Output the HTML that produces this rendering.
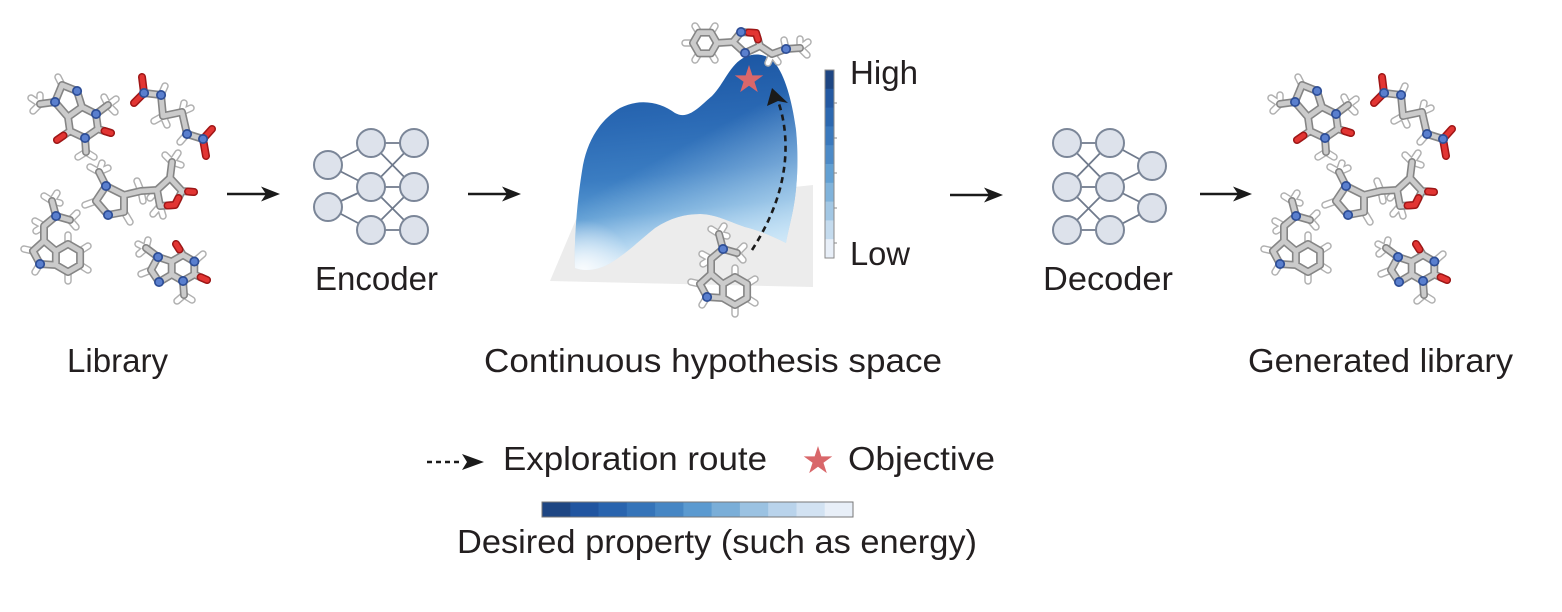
<!DOCTYPE html>
<html>
<head>
<meta charset="utf-8">
<style>
html,body{margin:0;padding:0;background:#fff;width:1562px;height:612px;overflow:hidden;}
svg{display:block;}
.t{font-family:"Liberation Sans",Arial,Helvetica,sans-serif;font-size:33px;fill:#231f20;}
.go,.gi,.ho,.hi,.oo,.oi,.no,.ni{fill:none;stroke-linecap:round;stroke-linejoin:round;}
.go{stroke:#858585;stroke-width:8;}
.gi{stroke:#cbcbcb;stroke-width:4.8;}
.ho{stroke:#b0b0b0;stroke-width:7.5;}
.hi{stroke:#ffffff;stroke-width:4.6;}
.oo{stroke:#a01616;stroke-width:8;}
.oi{stroke:#e23533;stroke-width:5;}
.no{stroke:#2e4e96;stroke-width:10;}
.ni{stroke:#5a7fce;stroke-width:6.6;}
.nn{fill:#dde2eb;stroke:#7b8698;stroke-width:2;}
.ne{stroke:#6f7a8c;stroke-width:1.8;fill:none;}
</style>
</head>
<body>
<svg width="1562" height="612" viewBox="0 0 1562 612" xmlns="http://www.w3.org/2000/svg">
<defs>
  <linearGradient id="sg" gradientUnits="userSpaceOnUse" x1="640" y1="58" x2="660" y2="272">
    <stop offset="0" stop-color="#1b55a2"/>
    <stop offset="0.3" stop-color="#2a69b4"/>
    <stop offset="0.55" stop-color="#3b7dc2"/>
    <stop offset="0.72" stop-color="#5a9ad2"/>
    <stop offset="0.86" stop-color="#9ec8ea"/>
    <stop offset="1" stop-color="#f2f6fb"/>
  </linearGradient>
  <linearGradient id="rg" gradientUnits="userSpaceOnUse" x1="730" y1="120" x2="792" y2="235">
    <stop offset="0" stop-color="#d4ecfa" stop-opacity="0"/>
    <stop offset="1" stop-color="#d4ecfa" stop-opacity="0.75"/>
  </linearGradient>
  <radialGradient id="wg" gradientUnits="userSpaceOnUse" cx="583" cy="270" r="50">
    <stop offset="0" stop-color="#ffffff" stop-opacity="0.85"/>
    <stop offset="1" stop-color="#ffffff" stop-opacity="0"/>
  </radialGradient>
  <path id="star" d="M0,-1 L0.2245,-0.309 L0.951,-0.309 L0.3633,0.118 L0.5878,0.809 L0,0.382 L-0.5878,0.809 L-0.3633,0.118 L-0.951,-0.309 L-0.2245,-0.309Z"/>

  <!-- Molecule A -->
  <path id="A_h" d="M40,104L31,98M40,104L33,111M40,104L40,95M108,105L116,99M108,105L115,112M108,105L104,97M86,152L78,157M86,152L94,157M62,85L58,77"/>
  <path id="A_g" d="M62,85L77,91L82,107L68,117L55,102ZM82,107L96,114L98,129L85,138L70,131L68,117M55,102L40,104M96,114L108,105M85,138L86,152M98,129L111,133M70,131L57,140"/>
  <path id="A_o" d="M104.5,131L111,133M63.5,135.5L57,140"/>
  <path id="A_n" d="M77,91h0.1M55,102h0.1M96,114h0.1M85,138h0.1"/>
  <!-- Molecule B -->
  <path id="B_h" d="M161,95L165,86M163,116L154,121M163,116L167,125M182,112L184,103M182,112L191,108M187,134L180,142"/>
  <path id="B_g" d="M144,93L161,95L163,116L182,112L187,134L203,139"/>
  <path id="B_o" d="M144,93L142,77M144,93L134,103M203,139L212,129M203,139L206,156"/>
  <path id="B_n" d="M144,93h.1M161,95h.1M187,134h.1M203,139h.1"/>
  <!-- Molecule C -->
  <path id="C_h" d="M99,172L90,167M99,172L102,163M99,172L108,168M96,201L85,205M124,212L130,222M141,191L137,181M141,191L143,201M157,190L150,198M172,162L165,155M172,162L178,153M172,162L181,165M160,206L153,214M160,206L163,216"/>
  <path id="C_g" d="M106,186L96,201L108,215L124,212L124,195ZM106,186L99,172M124,195L141,191L157,190M157,190L170,178L182,191L175,205L160,206L157,190M170,178L172,162M182,191L194,192"/>
  <path id="C_o" d="M188,191.5L194,192M178.5,198L175,205L167.5,205.5"/>
  <path id="C_n" d="M106,186h.1M108,215h.1"/>
  <!-- Molecule D -->
  <path id="D_h" d="M68,244L68,235M80.1,251L88,246M80.1,265L88,270M68,272L68,281M40,264L35,272M33,251L24,249M44,226L35,221M44,226L36,231M52,201L44,196M52,201L57,193M52,201L60,203M70,220L77,213M70,220L76,227"/>
  <path id="D_g" d="M68,244L80.1,251L80.1,265L68,272L55.9,265L55.9,251ZM55.9,251L44,241L33,251L40,264L55.9,265M44,241L44,226L56,216L52,201M56,216L70,220"/>
  <path id="D_n" d="M40,264h.1M56,216h.1"/>
  <!-- Molecule E -->
  <path id="E_h" d="M194.3,261.5L203,254M184,295L177,301M184,295L192,300M146,248L138,244M146,248L148,240M146,248L139,254M151,270L141,274"/>
  <path id="E_g" d="M171.7,261.5L183,255L194.3,261.5L194.3,274.5L183,281L171.7,274.5ZM171.7,261.5L158,257L151,270L159,282L171.7,274.5M183,255L176,244M194.3,274.5L207,280M183,281L184,295M158,257L146,248"/>
  <path id="E_o" d="M179.5,249.5L176,244M200.6,277.2L207,280"/>
  <path id="E_n" d="M194.3,261.5h.1M183,281h.1M158,257h.1M159,282h.1"/>
  <!-- Molecule F -->
  <path id="F_h" d="M711,53.4L715,60M699,53.4L695,60M693,43L685,43M699,32.6L695,26M711,32.6L715,26M772,54L768,63M772,54L778,62M786,49L784,40M800,48L808,42M800,48L807,55M800,48L800,39"/>
  <path id="F_g" d="M717,43L711,53.4L699,53.4L693,43L699,32.6L711,32.6ZM717,43L733,42L741,32L756,33L760,46L745,53L733,42M760,46L772,54L786,49L800,48"/>
  <path id="F_o" d="M748.5,32.5L756,33L758,39.5"/>
  <path id="F_n" d="M741,32h.1M745,53h.1M786,49h.1"/>

  <g id="molD">
    <use href="#D_h" class="ho"/><use href="#D_h" class="hi"/>
    <use href="#D_g" class="go"/><use href="#D_g" class="gi"/>
    <use href="#D_n" class="no"/><use href="#D_n" class="ni"/>
  </g>

  <g id="lib">
    <use href="#A_h" class="ho"/><use href="#A_h" class="hi"/>
    <use href="#A_g" class="go"/><use href="#A_g" class="gi"/>
    <use href="#A_o" class="oo"/><use href="#A_o" class="oi"/>
    <use href="#A_n" class="no"/><use href="#A_n" class="ni"/>

    <use href="#B_h" class="ho"/><use href="#B_h" class="hi"/>
    <use href="#B_g" class="go"/><use href="#B_g" class="gi"/>
    <use href="#B_o" class="oo"/><use href="#B_o" class="oi"/>
    <use href="#B_n" class="no"/><use href="#B_n" class="ni"/>

    <use href="#C_h" class="ho"/><use href="#C_h" class="hi"/>
    <use href="#C_g" class="go"/><use href="#C_g" class="gi"/>
    <use href="#C_o" class="oo"/><use href="#C_o" class="oi"/>
    <use href="#C_n" class="no"/><use href="#C_n" class="ni"/>

    <use href="#molD"/>

    <use href="#E_h" class="ho"/><use href="#E_h" class="hi"/>
    <use href="#E_g" class="go"/><use href="#E_g" class="gi"/>
    <use href="#E_o" class="oo"/><use href="#E_o" class="oi"/>
    <use href="#E_n" class="no"/><use href="#E_n" class="ni"/>
  </g>
</defs>

<rect x="0" y="0" width="1562" height="612" fill="#ffffff"/>

<!-- Libraries -->
<use href="#lib"/>
<use href="#lib" x="1240"/>

<!-- Arrows -->
<g stroke="#1a1a1a" stroke-width="2.6">
  <line x1="227" y1="194" x2="268" y2="194"/>
  <line x1="468" y1="194" x2="509" y2="194"/>
  <line x1="950" y1="195" x2="991" y2="195"/>
  <line x1="1200" y1="194" x2="1240" y2="194"/>
</g>
<g fill="#1a1a1a">
  <path d="M280,194 L261,186.5 L266,194 L261,201.5 Z"/>
  <path d="M521,194 L502,186.5 L507,194 L502,201.5 Z"/>
  <path d="M1003,195 L984,187.5 L989,195 L984,202.5 Z"/>
  <path d="M1252,194 L1233,186.5 L1238,194 L1233,201.5 Z"/>
</g>

<!-- Encoder -->
<g class="ne">
  <line x1="328" y1="165" x2="371" y2="143"/>
  <line x1="328" y1="165" x2="371" y2="187"/>
  <line x1="328" y1="207" x2="371" y2="187"/>
  <line x1="328" y1="207" x2="371" y2="230"/>
  <line x1="371" y1="143" x2="414" y2="143"/>
  <line x1="371" y1="143" x2="414" y2="187"/>
  <line x1="371" y1="187" x2="414" y2="143"/>
  <line x1="371" y1="187" x2="414" y2="187"/>
  <line x1="371" y1="187" x2="414" y2="230"/>
  <line x1="371" y1="230" x2="414" y2="187"/>
  <line x1="371" y1="230" x2="414" y2="230"/>
</g>
<g class="nn">
  <circle cx="328" cy="165" r="14"/>
  <circle cx="328" cy="207" r="14"/>
  <circle cx="371" cy="143" r="14"/>
  <circle cx="371" cy="187" r="14"/>
  <circle cx="371" cy="230" r="14"/>
  <circle cx="414" cy="143" r="14"/>
  <circle cx="414" cy="187" r="14"/>
  <circle cx="414" cy="230" r="14"/>
</g>

<!-- Decoder -->
<g class="ne">
  <line x1="1067" y1="143" x2="1110" y2="143"/>
  <line x1="1067" y1="143" x2="1110" y2="187"/>
  <line x1="1067" y1="187" x2="1110" y2="143"/>
  <line x1="1067" y1="187" x2="1110" y2="187"/>
  <line x1="1067" y1="187" x2="1110" y2="230"/>
  <line x1="1067" y1="230" x2="1110" y2="187"/>
  <line x1="1067" y1="230" x2="1110" y2="230"/>
  <line x1="1110" y1="143" x2="1152" y2="166"/>
  <line x1="1110" y1="187" x2="1152" y2="166"/>
  <line x1="1110" y1="187" x2="1152" y2="208"/>
  <line x1="1110" y1="230" x2="1152" y2="208"/>
</g>
<g class="nn">
  <circle cx="1067" cy="143" r="14"/>
  <circle cx="1067" cy="187" r="14"/>
  <circle cx="1067" cy="230" r="14"/>
  <circle cx="1110" cy="143" r="14"/>
  <circle cx="1110" cy="187" r="14"/>
  <circle cx="1110" cy="230" r="14"/>
  <circle cx="1152" cy="166" r="14"/>
  <circle cx="1152" cy="208" r="14"/>
</g>

<!-- Surface -->
<polygon points="580,210 813,185 813,287 550,281" fill="#ececec"/>
<path d="M575,268 C574,240 577,200 583,165 C588,140 600,120 620,108 C640,98 660,102 675,113 C688,120 698,108 712,96 C724,84 730,64 745,57 C757,52 768,55 775,63 C785,76 792,100 796,130 C799,160 797,190 793,210 C790,225 787,236 786,243 C772,236 758,230 745,227 C730,222 715,214 700,214 C685,214 670,218 655,228 C640,240 628,252 612,262 C600,270 585,272 575,268 Z" fill="url(#sg)"/>
<path d="M575,268 C574,240 577,200 583,165 C588,140 600,120 620,108 C640,98 660,102 675,113 C688,120 698,108 712,96 C724,84 730,64 745,57 C757,52 768,55 775,63 C785,76 792,100 796,130 C799,160 797,190 793,210 C790,225 787,236 786,243 C772,236 758,230 745,227 C730,222 715,214 700,214 C685,214 670,218 655,228 C640,240 628,252 612,262 C600,270 585,272 575,268 Z" fill="url(#rg)"/>
<path d="M575,268 C574,240 577,200 583,165 C588,140 600,120 620,108 C640,98 660,102 675,113 C688,120 698,108 712,96 C724,84 730,64 745,57 C757,52 768,55 775,63 C785,76 792,100 796,130 C799,160 797,190 793,210 C790,225 787,236 786,243 C772,236 758,230 745,227 C730,222 715,214 700,214 C685,214 670,218 655,228 C640,240 628,252 612,262 C600,270 585,272 575,268 Z" fill="url(#wg)"/>

<!-- Star on peak -->
<use href="#star" transform="translate(749,80) scale(15)" fill="#d9676a"/>

<!-- Dashed exploration route -->
<path d="M752,250 C768,225 782,195 785,160 C787,135 783,116 779,104" fill="none" stroke="#1a1a1a" stroke-width="2.6" stroke-dasharray="6 4.5"/>
<path d="M772,88 L767,106 L778,101 L788,103 Z" fill="#1a1a1a"/>

<!-- Molecules on surface -->
<g>
  <use href="#F_h" class="ho"/><use href="#F_h" class="hi"/>
  <use href="#F_g" class="go"/><use href="#F_g" class="gi"/>
  <use href="#F_o" class="oo"/><use href="#F_o" class="oi"/>
  <use href="#F_n" class="no"/><use href="#F_n" class="ni"/>
</g>
<use href="#molD" transform="translate(667,33)"/>

<!-- Vertical colour bar -->
<g stroke="none">
  <rect x="825" y="70" width="9" height="19.3" fill="#1e4683"/>
  <rect x="825" y="88.8" width="9" height="19.3" fill="#2459a2"/>
  <rect x="825" y="107.6" width="9" height="19.3" fill="#2c68b0"/>
  <rect x="825" y="126.4" width="9" height="19.3" fill="#3a79bd"/>
  <rect x="825" y="145.2" width="9" height="19.3" fill="#4c8ac7"/>
  <rect x="825" y="164" width="9" height="19.3" fill="#62a0d3"/>
  <rect x="825" y="182.8" width="9" height="19.3" fill="#80b3db"/>
  <rect x="825" y="201.6" width="9" height="19.3" fill="#a2c7e4"/>
  <rect x="825" y="220.4" width="9" height="19.3" fill="#c4dbee"/>
  <rect x="825" y="239.2" width="9" height="18.8" fill="#e8eff8"/>
</g>
<rect x="825" y="70" width="9" height="188" fill="none" stroke="#8a8a8a" stroke-width="1"/>
<g stroke="#8a8a8a" stroke-width="1">
  <line x1="834" y1="103" x2="837" y2="103"/>
  <line x1="834" y1="138" x2="837" y2="138"/>
  <line x1="834" y1="173" x2="837" y2="173"/>
  <line x1="834" y1="208" x2="837" y2="208"/>
  <line x1="834" y1="243" x2="837" y2="243"/>
</g>

<!-- Labels -->
<text class="t" x="850" y="84" textLength="68" lengthAdjust="spacingAndGlyphs">High</text>
<text class="t" x="850" y="265" textLength="60" lengthAdjust="spacingAndGlyphs">Low</text>
<text class="t" x="67" y="372" textLength="101" lengthAdjust="spacingAndGlyphs">Library</text>
<text class="t" x="315" y="290" textLength="123" lengthAdjust="spacingAndGlyphs">Encoder</text>
<text class="t" x="484" y="372" textLength="458" lengthAdjust="spacingAndGlyphs">Continuous hypothesis space</text>
<text class="t" x="1043" y="290" textLength="130" lengthAdjust="spacingAndGlyphs">Decoder</text>
<text class="t" x="1248" y="372" textLength="265" lengthAdjust="spacingAndGlyphs">Generated library</text>

<!-- Legend -->
<line x1="427" y1="462" x2="460" y2="462" stroke="#1a1a1a" stroke-width="2.4" stroke-dasharray="5 4"/>
<path d="M484,462 L462,454 L467,462 L462,470 Z" fill="#1a1a1a"/>
<text class="t" x="503" y="470" textLength="264" lengthAdjust="spacingAndGlyphs">Exploration route</text>
<use href="#star" transform="translate(818,461) scale(15)" fill="#d9676a"/>
<text class="t" x="848" y="470" textLength="147" lengthAdjust="spacingAndGlyphs">Objective</text>

<g stroke="none">
  <rect x="542" y="502" width="28.8" height="15" fill="#1e4683"/>
  <rect x="570.3" y="502" width="28.8" height="15" fill="#2155a0"/>
  <rect x="598.5" y="502" width="28.8" height="15" fill="#2964ae"/>
  <rect x="626.8" y="502" width="28.8" height="15" fill="#3574b9"/>
  <rect x="655.1" y="502" width="28.8" height="15" fill="#4686c4"/>
  <rect x="683.4" y="502" width="28.8" height="15" fill="#5b9ad0"/>
  <rect x="711.6" y="502" width="28.8" height="15" fill="#7aaed8"/>
  <rect x="739.9" y="502" width="28.8" height="15" fill="#9bc2e2"/>
  <rect x="768.2" y="502" width="28.8" height="15" fill="#b9d3eb"/>
  <rect x="796.5" y="502" width="28.8" height="15" fill="#d2e2f2"/>
  <rect x="824.7" y="502" width="28.3" height="15" fill="#e8eff8"/>
</g>
<rect x="542" y="502" width="311" height="15" fill="none" stroke="#777" stroke-width="1"/>
<text class="t" x="457" y="553" textLength="520" lengthAdjust="spacingAndGlyphs">Desired property (such as energy)</text>
</svg>
</body>
</html>
